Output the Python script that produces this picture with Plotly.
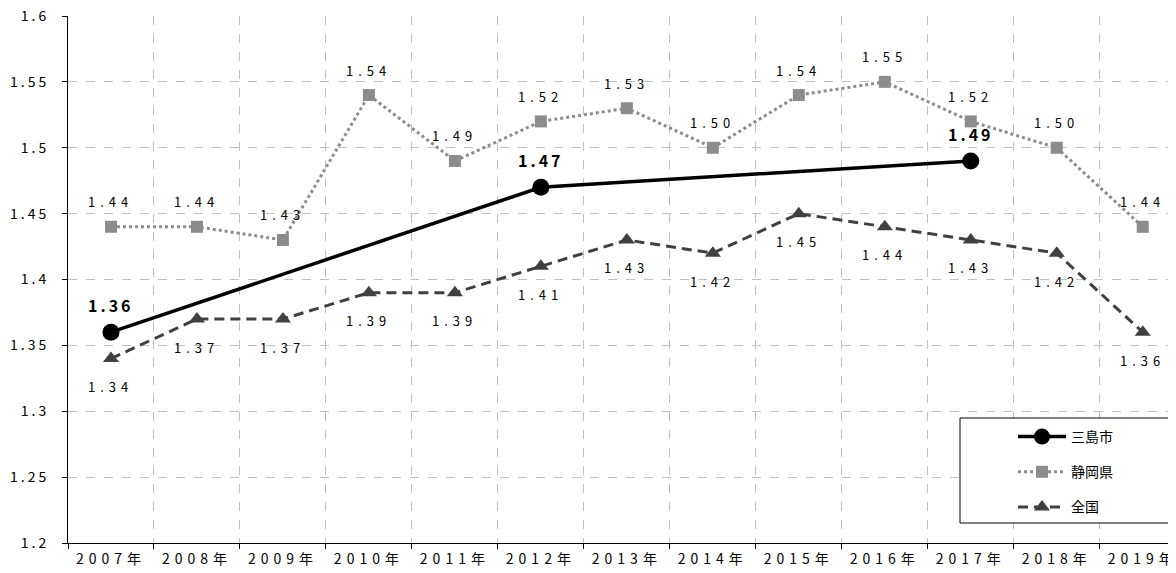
import plotly.graph_objects as go

years = ["2007年", "2008年", "2009年", "2010年", "2011年", "2012年", "2013年",
         "2014年", "2015年", "2016年", "2017年", "2018年", "2019年"]
mishima = [1.36, None, None, None, None, 1.47, None, None, None, None, 1.49, None, None]
shizuoka = [1.44, 1.44, 1.43, 1.54, 1.49, 1.52, 1.53, 1.50, 1.54, 1.55, 1.52, 1.50, 1.44]
zenkoku = [1.34, 1.37, 1.37, 1.39, 1.39, 1.41, 1.43, 1.42, 1.45, 1.44, 1.43, 1.42, 1.36]
y_ticks = [1.2, 1.25, 1.3, 1.35, 1.4, 1.45, 1.5, 1.55, 1.6]
y_tick_text = ["1.2", "1.25", "1.3", "1.35", "1.4", "1.45", "1.5", "1.55", "1.6"]

FONT = "Noto Sans CJK JP"
def sp(s, ls=4):
    return f'<span style="letter-spacing:{ls}px">{s}</span>'

# figure-pixel geometry (page is offset by the 8px body margin)
L, T, B = 60, 8, 38
PW, PH = 1176 - L, 573 - T - B

def px(xp):
    return (xp - 8 - L) / PW

def py(yp):
    return (573 - B - (yp - 8)) / PH

fig = go.Figure()
fig.add_trace(go.Scatter(x=years, y=mishima, name="三島市", mode="lines+markers",
                         connectgaps=True, legendgroup="a",
                         line=dict(color="black", width=3.5),
                         marker=dict(symbol="circle", size=17, color="black")))
fig.add_trace(go.Scatter(x=years, y=shizuoka, name="静岡県", mode="lines+markers",
                         legendgroup="b",
                         line=dict(color="#8c8c8c", width=3, dash="dot"),
                         marker=dict(symbol="square", size=12, color="#8c8c8c")))
fig.add_trace(go.Scatter(x=years, y=zenkoku, name="全国", mode="lines+markers",
                         legendgroup="c",
                         line=dict(color="#404040", width=3, dash="10px,6px"),
                         marker=dict(symbol="triangle-up", size=14, color="#404040")))

for xv, yv in zip(years, shizuoka):
    fig.add_annotation(x=xv, y=yv, text=sp(f"{yv:.2f}", 5), showarrow=False, yshift=25,
                       font=dict(family=FONT, size=13, color="black"))
for xv, yv in zip(years, zenkoku):
    fig.add_annotation(x=xv, y=yv, text=sp(f"{yv:.2f}", 5), showarrow=False, yshift=-28,
                       font=dict(family=FONT, size=13, color="black"))
for xv, yv in zip(years, mishima):
    if yv is not None:
        fig.add_annotation(x=xv, y=yv, text="<b>" + sp(f"{yv:.2f}", 3) + "</b>", showarrow=False,
                           yshift=27, font=dict(family=FONT, size=16, color="black"))

# legend frame
fig.add_shape(type="rect", xref="paper", yref="paper",
              x0=px(960), x1=px(1173), y0=py(523), y1=py(418),
              line=dict(color="black", width=1), fillcolor="white", layer="above")

fig.update_layout(
    width=1176, height=573,
    margin=dict(l=L, r=0, t=T, b=B, autoexpand=False),
    paper_bgcolor="white", plot_bgcolor="white",
    font=dict(family=FONT, size=13, color="black"),
    showlegend=True,
    legend=dict(x=px(1013), y=py(421), xanchor="left", yanchor="top",
                borderwidth=0, bgcolor="rgba(0,0,0,0)",
                font=dict(family=FONT, size=14), tracegroupgap=14,
                traceorder="grouped", itemwidth=48),
)
fig.update_xaxes(
    type="category", range=[-0.5, 12.48], tickson="boundaries", automargin=False,
    tickvals=years, ticktext=[sp(y, 5) for y in years],
    ticklabelstandoff=3, ticklabeloverflow="allow",
    showgrid=True, gridcolor="#c0c0c0", griddash="dash", gridwidth=1,
    showline=True, linecolor="black", linewidth=1,
    ticks="outside", ticklen=5, tickcolor="black",
    tickfont=dict(family=FONT, size=14), zeroline=False,
)
fig.update_yaxes(
    range=[1.2, 1.6], tickvals=y_ticks, ticktext=[sp(t, 3) for t in y_tick_text],
    automargin=False, ticklabelstandoff=10, ticklabeloverflow="allow",
    showgrid=True, gridcolor="#c0c0c0", griddash="dash", gridwidth=1,
    showline=True, linecolor="black", linewidth=1,
    ticks="outside", ticklen=5, tickcolor="black",
    tickfont=dict(family=FONT, size=14), zeroline=False,
)
fig.write_html("out.html")
